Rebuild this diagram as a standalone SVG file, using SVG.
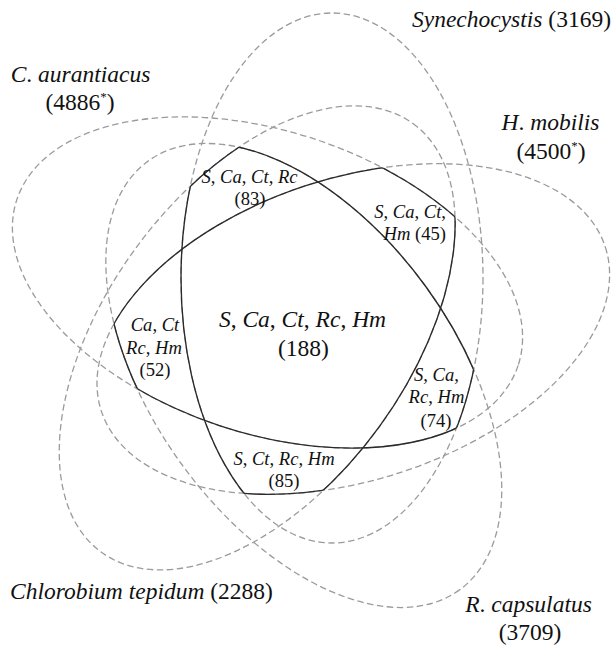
<svg xmlns="http://www.w3.org/2000/svg" width="614" height="647" viewBox="0 0 614 647">
<style>
.dash{fill:none;stroke:#9b9b9b;stroke-width:1.3;stroke-dasharray:6.5 3.5}
.solid{fill:none;stroke:#2a2a2a;stroke-width:1.35}
.w{fill:#fff}
text{font-family:"Liberation Serif","Times New Roman",serif;fill:#111}
.big{font-size:23.5px}
.small{font-size:18.6px}
.i{font-style:italic}
</style>
<defs>
<ellipse id="eS" cx="332" cy="278" rx="151" ry="265"/>
<ellipse id="eCa" cx="267.5" cy="282.5" rx="264" ry="151" transform="rotate(18.3 267.5 282.5)"/>
<ellipse id="eCt" cx="257.2" cy="337.9" rx="265" ry="151" transform="rotate(-54 257.2 337.9)"/>
<ellipse id="eRc" cx="303.8" cy="375.5" rx="265" ry="151" transform="rotate(54 303.8 375.5)"/>
<ellipse id="eHm" cx="353.3" cy="329" rx="265" ry="151" transform="rotate(-18 353.3 329)"/>
<rect id="full" width="614" height="647"/>
<clipPath id="cS"><use href="#eS"/></clipPath>
<clipPath id="cCa"><use href="#eCa"/></clipPath>
<clipPath id="cCt"><use href="#eCt"/></clipPath>
<clipPath id="cRc"><use href="#eRc"/></clipPath>
<clipPath id="cHm"><use href="#eHm"/></clipPath>
<mask id="mS" maskUnits="userSpaceOnUse" x="0" y="0" width="614" height="647">
<g clip-path="url(#cCa)"><g clip-path="url(#cCt)"><use class="w" href="#full" clip-path="url(#cRc)"/></g></g>
<g clip-path="url(#cCa)"><g clip-path="url(#cCt)"><use class="w" href="#full" clip-path="url(#cHm)"/></g></g>
<g clip-path="url(#cCa)"><g clip-path="url(#cRc)"><use class="w" href="#full" clip-path="url(#cHm)"/></g></g>
<g clip-path="url(#cCt)"><g clip-path="url(#cRc)"><use class="w" href="#full" clip-path="url(#cHm)"/></g></g>
</mask>
<mask id="mCa" maskUnits="userSpaceOnUse" x="0" y="0" width="614" height="647">
<g clip-path="url(#cS)"><g clip-path="url(#cCt)"><use class="w" href="#full" clip-path="url(#cRc)"/></g></g>
<g clip-path="url(#cS)"><g clip-path="url(#cCt)"><use class="w" href="#full" clip-path="url(#cHm)"/></g></g>
<g clip-path="url(#cS)"><g clip-path="url(#cRc)"><use class="w" href="#full" clip-path="url(#cHm)"/></g></g>
<g clip-path="url(#cCt)"><g clip-path="url(#cRc)"><use class="w" href="#full" clip-path="url(#cHm)"/></g></g>
</mask>
<mask id="mCt" maskUnits="userSpaceOnUse" x="0" y="0" width="614" height="647">
<g clip-path="url(#cS)"><g clip-path="url(#cCa)"><use class="w" href="#full" clip-path="url(#cRc)"/></g></g>
<g clip-path="url(#cS)"><g clip-path="url(#cCa)"><use class="w" href="#full" clip-path="url(#cHm)"/></g></g>
<g clip-path="url(#cS)"><g clip-path="url(#cRc)"><use class="w" href="#full" clip-path="url(#cHm)"/></g></g>
<g clip-path="url(#cCa)"><g clip-path="url(#cRc)"><use class="w" href="#full" clip-path="url(#cHm)"/></g></g>
</mask>
<mask id="mRc" maskUnits="userSpaceOnUse" x="0" y="0" width="614" height="647">
<g clip-path="url(#cS)"><g clip-path="url(#cCa)"><use class="w" href="#full" clip-path="url(#cCt)"/></g></g>
<g clip-path="url(#cS)"><g clip-path="url(#cCa)"><use class="w" href="#full" clip-path="url(#cHm)"/></g></g>
<g clip-path="url(#cS)"><g clip-path="url(#cCt)"><use class="w" href="#full" clip-path="url(#cHm)"/></g></g>
<g clip-path="url(#cCa)"><g clip-path="url(#cCt)"><use class="w" href="#full" clip-path="url(#cHm)"/></g></g>
</mask>
<mask id="mHm" maskUnits="userSpaceOnUse" x="0" y="0" width="614" height="647">
<g clip-path="url(#cS)"><g clip-path="url(#cCa)"><use class="w" href="#full" clip-path="url(#cCt)"/></g></g>
<g clip-path="url(#cS)"><g clip-path="url(#cCa)"><use class="w" href="#full" clip-path="url(#cRc)"/></g></g>
<g clip-path="url(#cS)"><g clip-path="url(#cCt)"><use class="w" href="#full" clip-path="url(#cRc)"/></g></g>
<g clip-path="url(#cCa)"><g clip-path="url(#cCt)"><use class="w" href="#full" clip-path="url(#cRc)"/></g></g>
</mask>
</defs>
<rect width="614" height="647" fill="#fff"/>
<g id="sets">
<g id="set-synechocystis"><use class="dash" href="#eS"/></g>
<g id="set-c-aurantiacus"><use class="dash" href="#eCa"/></g>
<g id="set-chlorobium-tepidum"><use class="dash" href="#eCt"/></g>
<g id="set-r-capsulatus"><use class="dash" href="#eRc"/></g>
<g id="set-h-mobilis"><use class="dash" href="#eHm"/></g>
</g>
<g id="outlines">
<use class="solid" href="#eS" mask="url(#mS)"/>
<use class="solid" href="#eCa" mask="url(#mCa)"/>
<use class="solid" href="#eCt" mask="url(#mCt)"/>
<use class="solid" href="#eRc" mask="url(#mRc)"/>
<use class="solid" href="#eHm" mask="url(#mHm)"/>
</g>
<g id="set-labels">
<g id="label-synechocystis"><text class="big" x="511.5" y="27" text-anchor="middle"><tspan class="i">Synechocystis</tspan> (3169)</text></g>
<g id="label-c-aurantiacus"><text class="big" x="80.5" y="81.5" text-anchor="middle"><tspan class="i">C</tspan>. <tspan class="i">aurantiacus</tspan></text>
<text class="big" x="80" y="110" text-anchor="middle">(4886<tspan font-size="13" dy="-9">*</tspan><tspan dy="9">)</tspan></text></g>
<g id="label-h-mobilis"><text class="big" x="550.5" y="130" text-anchor="middle"><tspan class="i">H</tspan>. <tspan class="i">mobilis</tspan></text>
<text class="big" x="551" y="159" text-anchor="middle">(4500<tspan font-size="13" dy="-9">*</tspan><tspan dy="9">)</tspan></text></g>
<g id="label-chlorobium-tepidum"><text class="big" x="141.5" y="599" text-anchor="middle"><tspan class="i">Chlorobium tepidum</tspan> (2288)</text></g>
<g id="label-r-capsulatus"><text class="big" x="528.5" y="612" text-anchor="middle"><tspan class="i">R</tspan>. <tspan class="i">capsulatus</tspan></text>
<text class="big" x="530" y="640" text-anchor="middle">(3709)</text></g>
</g>
<g id="region-labels">
<g id="region-all"><text class="big" x="302.5" y="327" text-anchor="middle"><tspan class="i">S</tspan>, <tspan class="i">Ca</tspan>, <tspan class="i">Ct</tspan>, <tspan class="i">Rc</tspan>, <tspan class="i">Hm</tspan></text>
<text class="big" x="303.5" y="356" text-anchor="middle">(188)</text></g>
<g id="region-no-hm"><text class="small" x="249.5" y="183" text-anchor="middle"><tspan class="i">S</tspan>, <tspan class="i">Ca</tspan>, <tspan class="i">Ct</tspan>, <tspan class="i">Rc</tspan></text>
<text class="small" x="250" y="205" text-anchor="middle">(83)</text></g>
<g id="region-no-rc"><text class="small" x="446" y="218" text-anchor="end"><tspan class="i">S</tspan>, <tspan class="i">Ca</tspan>, <tspan class="i">Ct</tspan>,</text>
<text class="small" x="446" y="240" text-anchor="end"><tspan class="i">Hm</tspan> (45)</text></g>
<g id="region-no-s"><text class="small" x="155" y="331" text-anchor="middle"><tspan class="i">Ca</tspan>, <tspan class="i">Ct</tspan></text>
<text class="small" x="154" y="353.5" text-anchor="middle"><tspan class="i">Rc</tspan>, <tspan class="i">Hm</tspan></text>
<text class="small" x="155" y="376" text-anchor="middle">(52)</text></g>
<g id="region-no-ct"><text class="small" x="436.5" y="380.5" text-anchor="middle"><tspan class="i">S</tspan>, <tspan class="i">Ca</tspan>,</text>
<text class="small" x="436.5" y="403" text-anchor="middle"><tspan class="i">Rc</tspan>, <tspan class="i">Hm</tspan></text>
<text class="small" x="436" y="426.5" text-anchor="middle">(74)</text></g>
<g id="region-no-ca"><text class="small" x="284" y="465" text-anchor="middle"><tspan class="i">S</tspan>, <tspan class="i">Ct</tspan>, <tspan class="i">Rc</tspan>, <tspan class="i">Hm</tspan></text>
<text class="small" x="284" y="487" text-anchor="middle">(85)</text></g>
</g>
</svg>
